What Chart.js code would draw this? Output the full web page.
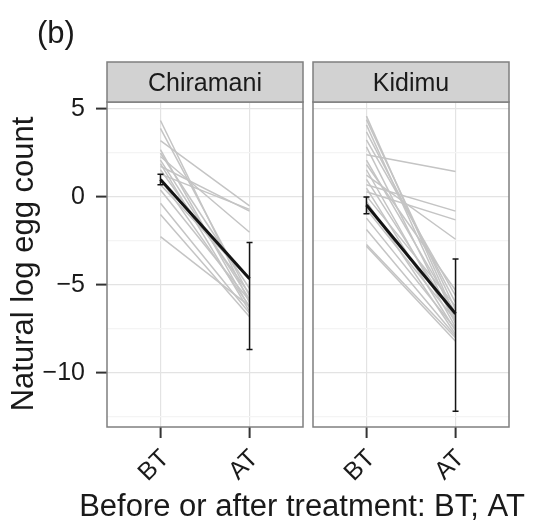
<!DOCTYPE html>
<html>
<head>
<meta charset="utf-8">
<script src="https://cdn.jsdelivr.net/npm/chart.js@4.4.0/dist/chart.umd.min.js"></script>
<style>
  body { margin: 0; background: #fff; }
  #wrap { position: relative; width: 540px; height: 529px; }
  #wrap canvas { position: absolute; left: 0; top: 0; }
</style>
</head>
<body>
<div id="wrap">
  <canvas id="left" width="540" height="529"></canvas>
  <canvas id="right" width="540" height="529"></canvas>
</div>
<script>
// categories and facets
var categories = ['BT', 'AT'];
var panels = ['Chiramani', 'Kidimu'];
var yTickValues = [-10, -5, 0, 5];
var yMinorValues = [-12.5, -7.5, -2.5, 2.5];

// individual trajectories
var chiramaniBT = [4.35, 3.9, 3.2, 2.7, 2.5, 2.3, 2.1, 1.9, 1.75, 1.55, 1.3, 1.0, 0.7, 0.4, -0.35, -1.0, -2.25];
var chiramaniAT = [-6.0, -5.6, -0.5, -6.3, -5.2, -2.0, -5.8, -6.5, -0.8, -5.5, -0.7, -6.2, -4.7, -5.9, -6.6, -6.8, -6.2];
var kidimuBT = [4.6, 4.4, 4.1, 3.7, 3.25, 2.85, 2.4, 2.1, 1.85, 1.55, 1.25, 1.0, 0.7, 0.5, 0.3, 0.05, -0.25, -0.7, -1.2, -1.85, -2.7, -2.8];
var kidimuAT = [-6.8, -6.4, -7.0, -6.0, -5.6, -7.2, 1.45, -6.6, -5.3, -7.4, -2.4, -6.9, -0.8, -7.6, -1.3, -6.2, -7.8, -7.0, -7.5, -7.9, -8.0, -8.2];

// mean and interval per panel [Chiramani, Kidimu]
var meanBT = [1.0, -0.45];
var meanAT = [-4.65, -6.63];
var errBT = [[0.7, 1.3], [-0.95, 0.0]];
var errAT = [[-8.67, -2.58], [-12.18, -3.52]];

var FONT = '"Liberation Sans", Arial, Helvetica, sans-serif';
var TEXT = '#1a1a1a';

function buildDatasets(bt, at, p) {
    var sets = [{
        data: [{ x: 1, y: meanBT[p] }, { x: 2, y: meanAT[p] }],
        borderColor: '#141414',
        borderWidth: 3
    }];
    for (var i = 0; i < bt.length; i++) {
        sets.push({
            data: [{ x: categories.indexOf('BT') + 1, y: bt[i] }, { x: categories.indexOf('AT') + 1, y: at[i] }],
            borderColor: '#c4c4c4',
            borderWidth: 1.5
        });
    }
    return sets;
}

// error bars and panel frame + strip
var panelDeco = {
    id: 'panelDeco',
    afterDatasetsDraw: function (chart) {
        var p = chart.options.plugins.panelDeco.panel;
        var x = chart.scales.x, y = chart.scales.y, ctx = chart.ctx;
        var a = chart.chartArea;
        ctx.save();
        ctx.strokeStyle = '#141414';
        ctx.lineWidth = 1.5;
        [errBT[p], errAT[p]].forEach(function (e, i) {
            var px = x.getPixelForValue(i + 1);
            var lo = y.getPixelForValue(e[0]), hi = y.getPixelForValue(e[1]);
            ctx.beginPath();
            ctx.moveTo(px, lo); ctx.lineTo(px, hi);
            ctx.moveTo(px - 3, lo); ctx.lineTo(px + 3, lo);
            ctx.moveTo(px - 3, hi); ctx.lineTo(px + 3, hi);
            ctx.stroke();
        });
        // panel border
        ctx.strokeStyle = '#7f7f7f';
        ctx.lineWidth = 1.5;
        ctx.strokeRect(a.left, a.top, a.right - a.left, a.bottom - a.top);
        // strip
        ctx.fillStyle = '#d2d2d2';
        ctx.fillRect(a.left, 62, a.right - a.left, a.top - 62);
        ctx.strokeRect(a.left, 62, a.right - a.left, a.top - 62);
        ctx.fillStyle = TEXT;
        ctx.font = '25px ' + FONT;
        ctx.textAlign = 'center';
        ctx.textBaseline = 'alphabetic';
        ctx.fillText(panels[p], (a.left + a.right) / 2, 91);
        ctx.restore();
    }
};

// figure tag and axis titles
var titles = {
    id: 'titles',
    afterDraw: function (chart) {
        var ctx = chart.ctx;
        ctx.save();
        ctx.fillStyle = TEXT;
        ctx.font = '31px ' + FONT;
        ctx.textBaseline = 'alphabetic';
        ctx.textAlign = 'left';
        ctx.fillText('(b)', 37, 43);
        ctx.textAlign = 'center';
        ctx.fillText('Before or after treatment: BT; AT', 302, 516);
        ctx.translate(33, 264);
        ctx.rotate(-Math.PI / 2);
        ctx.fillText('Natural log egg count', 0, 0);
        ctx.restore();
    }
};

function makeChart(id, bt, at, p) {
    var isLeft = p === 0;
    return new Chart(document.getElementById(id), {
        type: 'line',
        data: { datasets: buildDatasets(bt, at, p) },
        plugins: isLeft ? [panelDeco, titles] : [panelDeco],
        options: {
            responsive: false,
            animation: false,
            layout: {
                padding: isLeft ? { top: 102, right: 237, bottom: 0, left: 0 }
                                : { top: 102, right: 31, bottom: 0, left: 313 }
            },
            elements: { point: { radius: 0 }, line: { tension: 0 } },
            plugins: {
                legend: { display: false },
                tooltip: { enabled: false },
                panelDeco: { panel: p }
            },
            scales: {
                x: {
                    type: 'linear',
                    min: 0.4,
                    max: 2.6,
                    afterBuildTicks: function (s) {
                        s.ticks = categories.map(function (c, i) { return { value: i + 1 }; });
                    },
                    afterFit: function (s) { s.height = 102; },
                    border: { display: false },
                    grid: { color: '#e3e3e3', lineWidth: 1.2, tickColor: '#333', tickWidth: 2, tickLength: 11 },
                    ticks: {
                        autoSkip: false,
                        minRotation: 45,
                        maxRotation: 45,
                        padding: 6,
                        labelOffset: 5,
                        color: TEXT,
                        font: { family: FONT, size: 25 },
                        callback: function (v) { return categories[v - 1]; }
                    }
                },
                y: {
                    type: 'linear',
                    min: -13.07,
                    max: 5.4,
                    afterBuildTicks: function (s) {
                        s.ticks = yMinorValues.concat(yTickValues).sort(function (a, b) { return a - b; })
                            .map(function (v) { return { value: v }; });
                    },
                    afterFit: function (s) { s.width = isLeft ? 107 : 0; },
                    border: { display: false },
                    grid: {
                        lineWidth: 1.2,
                        drawTicks: isLeft,
                        tickLength: 11,
                        tickWidth: 2,
                        color: function (c) {
                            return yMinorValues.indexOf(c.tick.value) >= 0 ? '#f4f4f4' : '#e3e3e3';
                        },
                        tickColor: function (c) {
                            return yMinorValues.indexOf(c.tick.value) >= 0 ? 'rgba(0,0,0,0)' : '#333';
                        }
                    },
                    ticks: {
                        display: isLeft,
                        padding: 11,
                        color: TEXT,
                        font: { family: FONT, size: 25 },
                        callback: function (v) {
                            if (yTickValues.indexOf(v) < 0) return '';
                            return v < 0 ? '\u2212' + Math.abs(v) : String(v);
                        }
                    }
                }
            }
        }
    });
}

makeChart('left', chiramaniBT, chiramaniAT, 0);
makeChart('right', kidimuBT, kidimuAT, 1);
</script>
</body>
</html>
